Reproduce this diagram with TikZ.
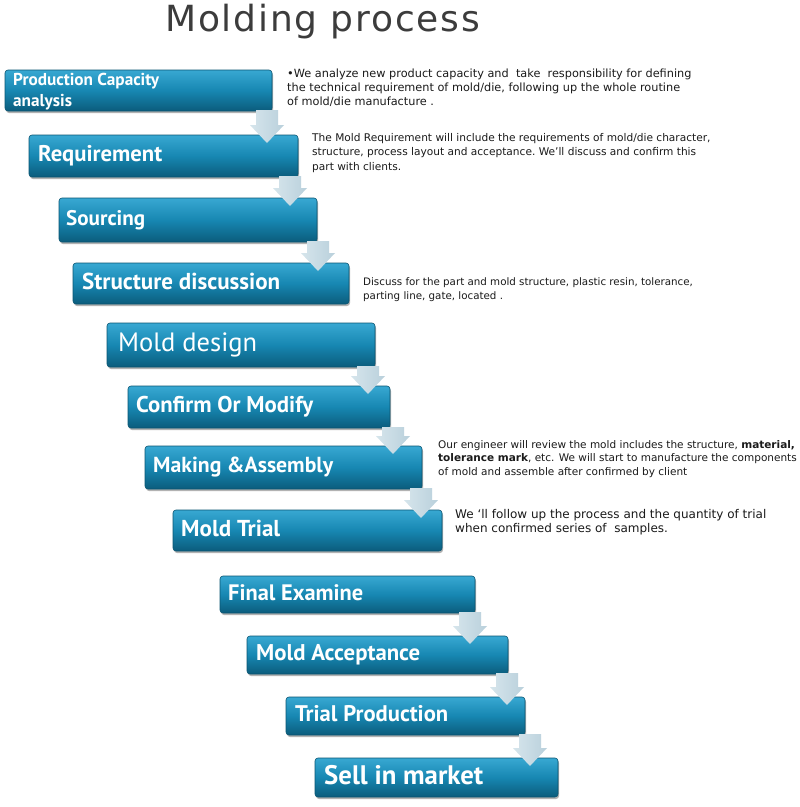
\documentclass[tikz,border=0pt]{standalone}
\usepackage{fontspec}
\usepackage{graphicx}
\setmainfont{DejaVu Sans}
\newfontfamily\lblfont{PT Sans}
\newfontfamily\titlefont[LetterSpace=5]{DejaVu Sans}
\usetikzlibrary{shadows,calc}
\definecolor{boxtop}{HTML}{38A8D2}
\definecolor{boxmid}{HTML}{1787B2}
\definecolor{boxbot}{HTML}{0B5C7C}
\definecolor{boxedge}{HTML}{0A5572}
\definecolor{arrowL}{HTML}{D6E5EC}
\definecolor{arrowR}{HTML}{B9D0DB}
\definecolor{titlegray}{HTML}{3C3C3C}
\definecolor{desc}{HTML}{1A1A1A}
\tikzset{
  stepbox/.style={rounded corners=3pt, draw=boxedge, line width=0.6pt,
    top color=boxtop, bottom color=boxbot, middle color=boxmid,
    drop shadow={shadow xshift=1pt, shadow yshift=-2pt, opacity=0.3, fill=black},
    anchor=north west, inner sep=0pt, outer sep=0pt},
  lbl/.style={anchor=west, inner sep=0pt, text=white, font=\lblfont\bfseries},
  arrowst/.style={left color=arrowL, right color=arrowR, draw=none},
  desctext/.style={anchor=north west, inner sep=0pt, align=left, text=desc},
}
\newcommand\flowarrow[3]{%
  \path[arrowst] let \p1=(#1.south), \p2=(#2.north) in
    ({#3pt-11pt},{\y1+1pt}) -- ({#3pt+11pt},{\y1+1pt}) -- ({#3pt+11pt},{\y2+10pt})
    -- ({#3pt+17pt},{\y2+10pt}) -- ({#3pt},{\y2-8pt}) -- ({#3pt-17pt},{\y2+10pt})
    -- ({#3pt-11pt},{\y2+10pt}) -- cycle;}
\begin{document}
\begin{tikzpicture}[x=1pt,y=-1pt]
\useasboundingbox[fill=white] (0,0) rectangle (800,807);

% title
\node[anchor=base west, inner sep=0pt, text=titlegray,
  font=\titlefont\fontsize{36}{40}\selectfont] (title) at (165,31) {Molding process};

% boxes
\node[stepbox, minimum width=267pt, minimum height=41pt] (b1) at (5,70) {};
\node[stepbox, minimum width=269pt, minimum height=42pt] (b2) at (29,135) {};
\node[stepbox, minimum width=258pt, minimum height=44pt] (b3) at (59,198) {};
\node[stepbox, minimum width=276pt, minimum height=41pt] (b4) at (73,263) {};
\node[stepbox, minimum width=268pt, minimum height=44pt] (b5) at (107,323) {};
\node[stepbox, minimum width=262pt, minimum height=42pt] (b6) at (128,386) {};
\node[stepbox, minimum width=277pt, minimum height=43pt] (b7) at (145,446) {};
\node[stepbox, minimum width=269pt, minimum height=41pt] (b8) at (173,510) {};
\node[stepbox, minimum width=255pt, minimum height=37pt] (b9) at (220,576) {};
\node[stepbox, minimum width=261pt, minimum height=38pt] (b10) at (247,636) {};
\node[stepbox, minimum width=239pt, minimum height=38pt] (b11) at (286,697) {};
\node[stepbox, minimum width=243pt, minimum height=39pt] (b12) at (315,758) {};

% labels
\node[lbl] (l1) at ([xshift=8pt,yshift=-1.5pt]b1.west) {\resizebox{146pt}{!}{\begin{tabular}{@{}l@{}}Production Capacity\\[0pt] analysis\end{tabular}}};
\node[lbl] (l2) at ([xshift=9pt]b2.west) {\resizebox{124pt}{!}{\vphantom{Ap}Requirement}};
\node[lbl] (l3) at ([xshift=7pt]b3.west) {\resizebox{79pt}{!}{\vphantom{Ap}Sourcing}};
\node[lbl] (l4) at ([xshift=9pt]b4.west) {\resizebox{198pt}{!}{\vphantom{Ap}Structure discussion}};
\node[lbl] (l5) at ([xshift=11pt]b5.west) {\resizebox{139pt}{!}{\vphantom{Ap}\mdseries Mold design}};
\node[lbl] (l6) at ([xshift=8pt]b6.west) {\resizebox{177pt}{!}{\vphantom{Ap}Confirm Or Modify}};
\node[lbl] (l7) at ([xshift=8pt]b7.west) {\resizebox{180pt}{!}{\vphantom{Ap}Making \&Assembly}};
\node[lbl] (l8) at ([xshift=8pt]b8.west) {\resizebox{99pt}{!}{\vphantom{Ap}Mold Trial}};
\node[lbl] (l9) at ([xshift=8pt]b9.west) {\resizebox{135pt}{!}{\vphantom{Ap}Final Examine}};
\node[lbl] (l10) at ([xshift=9pt]b10.west) {\resizebox{164pt}{!}{\vphantom{Ap}Mold Acceptance}};
\node[lbl] (l11) at ([xshift=9pt]b11.west) {\resizebox{153pt}{!}{\vphantom{Ap}Trial Production}};
\node[lbl] (l12) at ([xshift=9pt]b12.west) {\resizebox{159pt}{!}{\vphantom{Ap}Sell in market}};

% arrows
\flowarrow{b1}{b2}{267}
\flowarrow{b2}{b3}{290}
\flowarrow{b3}{b4}{318}
\flowarrow{b5}{b6}{368}
\flowarrow{b6}{b7}{393}
\flowarrow{b7}{b8}{421}
\flowarrow{b9}{b10}{470}
\flowarrow{b10}{b11}{507}
\flowarrow{b11}{b12}{530}

% descriptions
\node[desctext, font=\fontsize{11.3}{14}\selectfont] (d1) at (287,69) {\textbullet We analyze new product capacity and\ \ take\ \ responsibility for defining\\
the technical requirement of mold/die, following up the whole routine\\
of mold/die manufacture .};
\node[desctext, font=\fontsize{10.6}{14.5}\selectfont] (d2) at (312,133) {The Mold Requirement will include the requirements of mold/die character,\\
structure, process layout and acceptance.\ We'll discuss and confirm this\\
part with clients.};
\node[desctext, font=\fontsize{10.3}{14}\selectfont] (d3) at (363,277) {Discuss for the part and mold structure, plastic resin, tolerance,\\
parting line, gate, located .};
\node[desctext, font=\fontsize{10.5}{13.5}\selectfont] (d4) at (438,440) {Our engineer will review the mold includes the structure, \textbf{material,}\\
\textbf{tolerance mark}, etc. We will start to manufacture the components\\
of mold and assemble after confirmed by client};
\node[desctext, font=\fontsize{12}{14.5}\selectfont] (d5) at (455,509) {We `ll follow up the process and the quantity of trial\\
when confirmed series of\ \ samples.};
\end{tikzpicture}
\end{document}
